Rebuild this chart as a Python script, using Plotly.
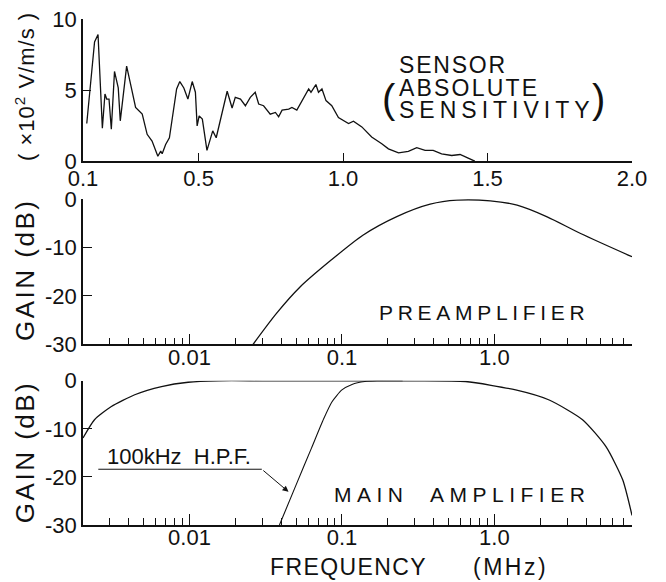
import numpy as np
import plotly.graph_objects as go

# ---------------- data ----------------
sens_freq = [0.113, 0.140, 0.152, 0.167, 0.176, 0.182, 0.190, 0.198, 0.209, 0.222,
             0.229, 0.251, 0.268, 0.282, 0.305, 0.322, 0.339, 0.359, 0.369, 0.374,
             0.386, 0.399, 0.424, 0.435, 0.449, 0.463, 0.478, 0.489, 0.495, 0.502,
             0.513, 0.529, 0.549, 0.561, 0.599, 0.616, 0.627, 0.645, 0.662, 0.679,
             0.696, 0.708, 0.725, 0.748, 0.766, 0.777, 0.789, 0.812, 0.823, 0.840,
             0.881, 0.889, 0.906, 0.915, 0.927, 0.941, 0.961, 0.984, 1.019, 1.036,
             1.065, 1.099, 1.134, 1.157, 1.192, 1.226, 1.255, 1.284, 1.312, 1.341,
             1.376, 1.405, 1.433, 1.456]
sens_val = [2.65, 8.39, 8.91, 2.32, 4.73, 4.37, 4.37, 2.25, 6.31, 5.15,
            2.84, 6.69, 5.10, 3.78, 3.31, 1.89, 1.42, 0.35, 0.71, 0.52,
            1.18, 1.65, 5.08, 5.60, 5.15, 4.37, 5.60, 4.85, 2.48, 3.19,
            2.96, 0.76, 2.13, 1.65, 4.92, 3.74, 4.49, 4.37, 3.90, 4.49,
            4.85, 4.02, 3.90, 3.31, 3.43, 3.12, 3.59, 3.66, 3.78, 3.59,
            5.08, 4.85, 5.39, 4.85, 5.08, 4.26, 3.90, 3.07, 2.65, 2.81,
            2.41, 1.70, 1.23, 0.87, 0.59, 0.69, 0.95, 0.76, 0.76, 0.52,
            0.40, 0.47, 0.21, 0.0]

pre_freq = [0.0261, 0.0372, 0.0529, 0.0834, 0.138, 0.229, 0.379, 0.568,
            0.94, 1.41, 2.22, 3.68, 8.0]
pre_gain = [-30.0, -23.6, -18.2, -12.8, -7.4, -3.6, -1.03, -0.2,
            -0.35, -1.24, -3.65, -7.1, -11.9]

main_freq = [0.002, 0.00238, 0.00307, 0.00437, 0.00655, 0.0098, 0.0155, 0.03,
             0.1, 0.3, 0.647, 1.38, 2.29, 3.79, 5.40, 6.95, 8.0]
main_gain = [-11.9, -8.1, -5.35, -2.9, -1.2, -0.3, 0.0, 0.0,
             0.0, 0.0, -0.15, -1.9, -4.0, -8.1, -13.7, -20.6, -28.0]

hpf_freq = [0.0389, 0.0501, 0.0631, 0.0759, 0.0859, 0.1, 0.1164, 0.1413,
            0.1698, 0.25]
hpf_gain = [-30.0, -21.6, -14.0, -7.9, -4.4, -1.9, -0.75, -0.15,
            0.0, 0.0]

top_tickvals = [0.1, 0.5, 1.0, 1.5, 2.0]
top_ticktext = ["0.1", "0.5", "1.0", "1.5", "2.0"]
sens_tickvals = [0, 5, 10]
gain_tickvals = [0, -10, -20, -30]
gain_ticktext = ["0", "-10", "-20", "-30"]
log_major = [0.01, 0.1, 1.0]
log_major_text = ["0.01", "0.1", "1.0"]
freq_range = [0.002, 8.0]

hpf_leader_x = [0.00252, 0.0298]
hpf_leader_y = [-18.4, -18.4]
hpf_arrow_tip = (0.0446, -23.1)

# ---------------- figure ----------------
FONT = "Liberation Sans"
BLACK = "#111111"

log_minor = [m * 10.0 ** k for k in (-3, -2, -1, 0) for m in range(2, 10)
             if freq_range[0] < m * 10.0 ** k <= freq_range[1]]

fig = go.Figure()

fig.add_trace(go.Scatter(x=sens_freq, y=sens_val, mode="lines",
                         line=dict(color=BLACK, width=1.3),
                         xaxis="x", yaxis="y", hoverinfo="skip"))
fig.add_trace(go.Scatter(x=pre_freq, y=pre_gain, mode="lines",
                         line=dict(color=BLACK, width=1.3, shape="spline", smoothing=0.8),
                         xaxis="x2", yaxis="y2", hoverinfo="skip"))
fig.add_trace(go.Scatter(x=main_freq, y=main_gain, mode="lines",
                         line=dict(color=BLACK, width=1.3, shape="spline", smoothing=0.6),
                         xaxis="x3", yaxis="y3", hoverinfo="skip"))
fig.add_trace(go.Scatter(x=hpf_freq, y=hpf_gain, mode="lines",
                         line=dict(color=BLACK, width=1.1, shape="spline", smoothing=0.6),
                         xaxis="x3", yaxis="y3", hoverinfo="skip"))
fig.add_trace(go.Scatter(x=hpf_leader_x, y=hpf_leader_y, mode="lines",
                         line=dict(color=BLACK, width=1.0),
                         xaxis="x3", yaxis="y3", hoverinfo="skip"))

tickfont = dict(family=FONT, size=22, color=BLACK)
axis_common = dict(showline=True, linecolor=BLACK, linewidth=1.5, showgrid=False,
                   zeroline=False, ticks="inside", tickcolor=BLACK, tickwidth=1.3,
                   tickfont=tickfont, mirror=False, automargin=False,
                   ticklabeloverflow="allow")

log_axis = dict(axis_common, type="log",
                range=[np.log10(freq_range[0]), np.log10(freq_range[1])],
                tickmode="array", tickvals=log_major, ticktext=log_major_text,
                ticklen=11, ticklabelstandoff=-8,
                minor=dict(tickmode="array", tickvals=log_minor, ticks="inside",
                           ticklen=7, tickcolor=BLACK, tickwidth=1.2))

gain_axis = dict(axis_common, range=[-30, 0], tickmode="array",
                 tickvals=gain_tickvals, ticktext=gain_ticktext, ticklen=9)

# the page places the figure 8px from the window's top-left corner; the size
# and margins put the plot area where the reference has it
fig.update_layout(
    width=658, height=574,
    margin=dict(l=75, r=34, t=11, b=57, autoexpand=False),
    paper_bgcolor="white", plot_bgcolor="white",
    showlegend=False,
    font=dict(family=FONT, color=BLACK),
    xaxis=dict(axis_common, domain=[0, 1], anchor="y", range=[0.1, 2.0],
               tickmode="array", tickvals=top_tickvals, ticktext=top_ticktext,
               ticklen=8, ticklabelstandoff=-3),
    yaxis=dict(axis_common, domain=[0.719, 1.0], anchor="x", range=[0, 10],
               tickmode="array", tickvals=sens_tickvals, ticklen=8),
    xaxis2=dict(log_axis, domain=[0, 1], anchor="y2"),
    yaxis2=dict(gain_axis, domain=[0.357, 0.644], anchor="x2"),
    xaxis3=dict(log_axis, domain=[0, 1], anchor="y3"),
    yaxis3=dict(gain_axis, domain=[0.0, 0.285], anchor="x3"),
)

def spaced(txt, px):
    return f"<span style='letter-spacing:{px}px'>{txt}</span>"

ann = []
lab = dict(family=FONT, size=21, color=BLACK)
sens_font = dict(family=FONT, size=23, color=BLACK)
# sensor label
ann.append(dict(x=1.185, y=6.76, xref="x", yref="y", text=spaced("SENSOR", 1.8),
                showarrow=False, xanchor="left", yanchor="middle", font=sens_font))
ann.append(dict(x=1.185, y=5.14, xref="x", yref="y", text=spaced("ABSOLUTE", 2.2),
                showarrow=False, xanchor="left", yanchor="middle", font=sens_font))
ann.append(dict(x=1.185, y=3.59, xref="x", yref="y", text=spaced("SENSITIVITY", 5),
                showarrow=False, xanchor="left", yanchor="middle", font=sens_font))
ann.append(dict(x=1.16, y=4.4, xref="x", yref="y", text="(",
                showarrow=False, xanchor="center", yanchor="middle",
                font=dict(family=FONT, size=40, color=BLACK)))
ann.append(dict(x=1.885, y=4.4, xref="x", yref="y", text=")",
                showarrow=False, xanchor="center", yanchor="middle",
                font=dict(family=FONT, size=40, color=BLACK)))
# panel labels
ann.append(dict(x=np.log10(0.86), y=-23.5, xref="x2", yref="y2",
                text=spaced("PREAMPLIFIER", 4.7), showarrow=False,
                xanchor="center", yanchor="middle", font=lab))
ann.append(dict(x=np.log10(0.617), y=-23.75, xref="x3", yref="y3",
                text=spaced("MAIN  AMPLIFIER", 5.5), showarrow=False,
                xanchor="center", yanchor="middle", font=lab))
ann.append(dict(x=np.log10(0.00847), y=-15.8, xref="x3", yref="y3",
                text="100kHz  H.P.F.", showarrow=False,
                xanchor="center", yanchor="middle",
                font=dict(family=FONT, size=22, color=BLACK)))
ann.append(dict(x=np.log10(hpf_arrow_tip[0]), y=hpf_arrow_tip[1], xref="x3", yref="y3",
                ax=np.log10(hpf_leader_x[1]), ay=hpf_leader_y[1], axref="x3", ayref="y3",
                text="", showarrow=True, arrowhead=2, arrowsize=1.2, arrowwidth=1.0,
                arrowcolor=BLACK))
# axis titles
ann.append(dict(x=-0.1056, y=0.8656, xref="paper", yref="paper",
                text=spaced("( ×10<sup>2</sup> V/m/s )", 1.0), textangle=-90,
                showarrow=False, xanchor="center", yanchor="middle",
                font=dict(family=FONT, size=22, color=BLACK)))
for yy in (0.504, 0.144):
    ann.append(dict(x=-0.1056, y=yy, xref="paper", yref="paper",
                    text=spaced("GAIN (dB)", 2.5), textangle=-90,
                    showarrow=False, xanchor="center", yanchor="middle",
                    font=dict(family=FONT, size=26, color=BLACK)))
ann.append(dict(x=0.4827, y=-0.083, xref="paper", yref="paper",
                text=spaced("FREQUENCY", 1.4), showarrow=False,
                xanchor="center", yanchor="middle",
                font=dict(family=FONT, size=23, color=BLACK)))
ann.append(dict(x=0.7778, y=-0.083, xref="paper", yref="paper",
                text=spaced("(MHz)", 2.5), showarrow=False,
                xanchor="center", yanchor="middle",
                font=dict(family=FONT, size=23, color=BLACK)))

fig.update_layout(annotations=ann)
fig.write_html("out.html")
